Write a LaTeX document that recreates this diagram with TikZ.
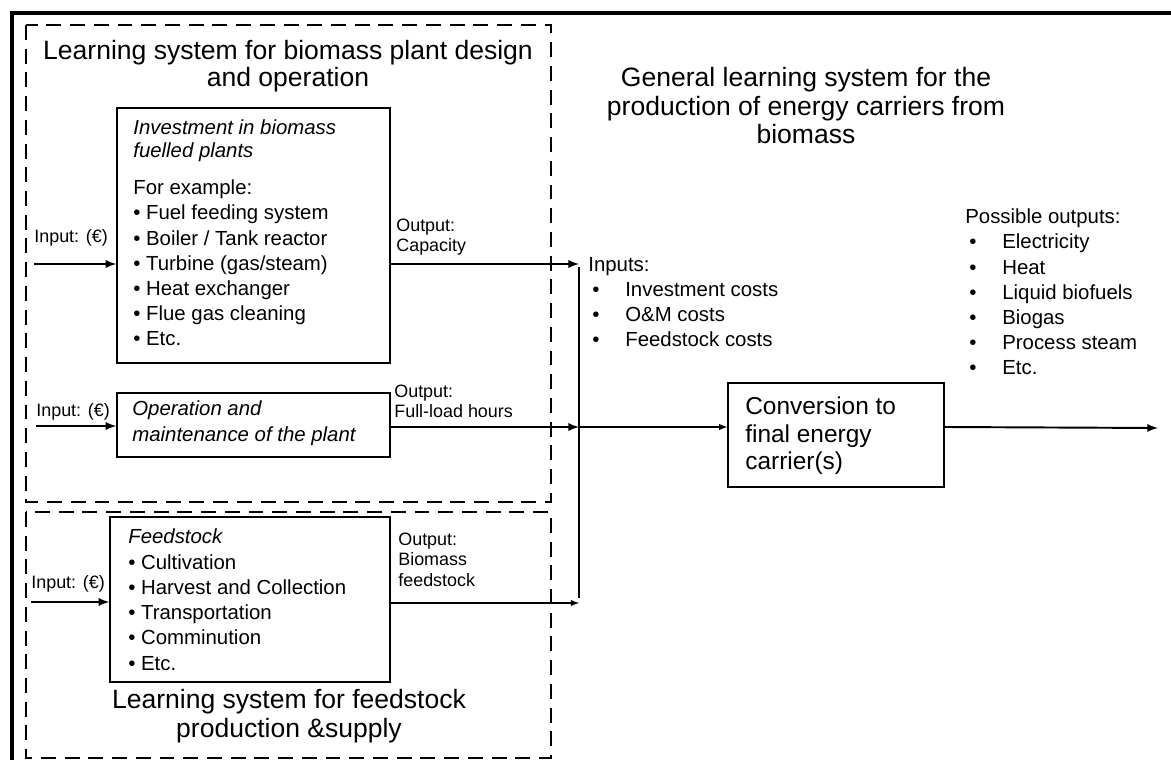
\documentclass[tikz,border=0pt]{standalone}
\usepackage{fontspec}
\setmainfont{Liberation Sans}
\usetikzlibrary{fit}

\newcommand{\itm}[1]{\hspace*{0.08cm}\makebox[0.66cm][l]{\textbullet}#1}

\begin{document}
\begin{tikzpicture}[x=0.02cm, y=-0.02cm, >=latex,
    stagebox/.style={draw, line width=0.8pt, inner sep=0pt},
    sysbox/.style={draw, line width=0.8pt, dash pattern=on 8.5pt off 5pt},
    flow/.style={->, line width=1.1pt},
    thinflow/.style={->, line width=0.6pt},
    boxtext/.style={anchor=base west, inner sep=0pt, align=left, font=\fontsize{11.6pt}{14.35pt}\selectfont},
    headline/.style={anchor=base, inner sep=0pt, align=center, font=\fontsize{15.1pt}{16.4pt}\selectfont},
    flowtext/.style={anchor=base west, inner sep=0pt, align=left, font=\fontsize{10.2pt}{11.6pt}\selectfont}]
    \useasboundingbox (0,0) rectangle (1171,760);
    \draw[line width=2.3pt] (12,760) -- (12,13) -- (1171,13);
    \draw[sysbox] (26,25) rectangle (551,502);
    \draw[sysbox] (26,512) rectangle (551,758);
    \node[headline, font=\fontsize{15.1pt}{15.4pt}\selectfont] (plantttl) at (288,87) {Learning system for biomass plant design\\and operation};
    \node[headline] (feedttl) at (289,737) {Learning system for feedstock\\production \&supply};
    \node[headline] (genttl) at (806,144) {General learning system for the\\production of energy carriers from\\biomass};
    \node[stagebox, fit={(117,108) (390,363)}] (inv) {};
    \node[stagebox, fit={(117,393) (390,457)}] (om) {};
    \node[stagebox, fit={(110,517) (390,682)}] (feed) {};
    \node[stagebox, fit={(728,383) (944,487)}] (conv) {};
    \node[boxtext, font=\fontsize{11.6pt}{13.6pt}\selectfont\itshape] (invhead) at (133,158) {Investment in biomass\\fuelled plants};
    \node[boxtext] (invlist) at (133,346) {For example:\\\textbullet\ Fuel feeding system\\\textbullet\ Boiler / Tank reactor\\\textbullet\ Turbine (gas/steam)\\\textbullet\ Heat exchanger\\\textbullet\ Flue gas cleaning\\\textbullet\ Etc.};
    \node[boxtext, font=\fontsize{11.6pt}{14.35pt}\selectfont\itshape] (omtext) at (132,441) {Operation and\\maintenance of the plant};
    \node[boxtext] (feedlist) at (128,670) {\textit{Feedstock}\\\textbullet\ Cultivation\\\textbullet\ Harvest and Collection\\\textbullet\ Transportation\\\textbullet\ Comminution\\\textbullet\ Etc.};
    \node[boxtext, font=\fontsize{13.9pt}{15.9pt}\selectfont] (convtext) at (745,470) {Conversion to\\final energy\\carrier(s)};
    \node[flowtext] (invin) at (34,243) {Input: (€)};
    \node[flowtext] (omin) at (36,417) {Input: (€)};
    \node[flowtext] (feedin) at (31,588) {Input: (€)};
    \node[flowtext] (invout) at (396,252) {Output:\\Capacity};
    \node[flowtext] (omout) at (394,418) {Output:\\Full-load hours};
    \node[flowtext] (feedout) at (398,586) {Output:\\Biomass\\feedstock};
    \node[boxtext] (inputs) at (588,347) {Inputs:\\\itm{Investment costs}\\\itm{O\&M costs}\\\itm{Feedstock costs}};
    \node[boxtext] (outputs) at (965,375) {Possible outputs:\\\itm{Electricity}\\\itm{Heat}\\\itm{Liquid biofuels}\\\itm{Biogas}\\\itm{Process steam}\\\itm{Etc.}};
    \coordinate (invsrc) at (34,264);
    \coordinate (omsrc) at (36,426);
    \coordinate (feedsrc) at (31,602);
    \coordinate (busA) at (579,264);
    \coordinate (busB) at (579,427);
    \coordinate (busC) at (579,603);
    \coordinate (final) at (1158,428);
    \draw[flow] (invsrc) -- (inv.west |- invsrc);
    \draw[flow] (omsrc) -- (om.west |- omsrc);
    \draw[flow] (feedsrc) -- (feed.west |- feedsrc);
    \draw[flow] (inv.east |- busA) -- (busA);
    \draw[flow] (om.east |- busB) -- (busB);
    \draw[thinflow] (feed.east |- busC) -- (busC);
    \draw[line width=0.6pt] ([yshift=-0.06cm]busA) -- ([yshift=0.1cm]busC);
    \draw[thinflow] (busB) -- (conv.west |- busB);
    \draw[flow] (conv.east |- busB) -- (final);
\end{tikzpicture}
\end{document}
